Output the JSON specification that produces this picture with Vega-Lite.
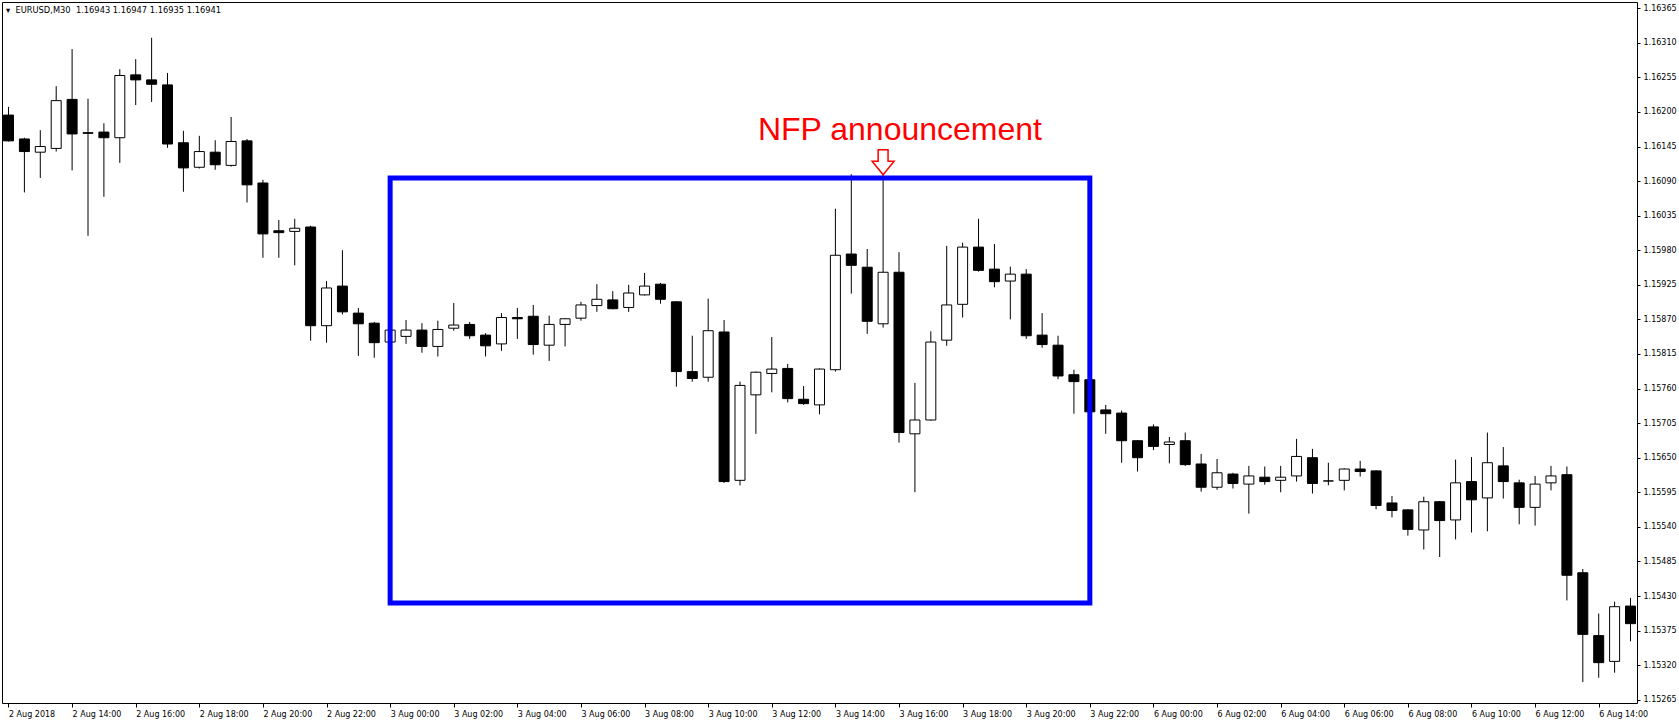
{
  "$schema": "https://vega.github.io/schema/vega-lite/v6.json",
  "width": 1635,
  "height": 701,
  "autosize": {"type": "none"},
  "padding": {"left": 2, "top": 2, "right": 42, "bottom": 21},
  "background": "white",
  "config": {
    "view": {"stroke": "#000000", "strokeWidth": 1},
    "axis": {"labelFont": "DejaVu Sans", "labelFontSize": 8, "labelColor": "#000000", "tickColor": "#000000", "domain": false, "grid": false, "title": null, "labelOverlap": false}
  },
  "title": {
    "text": "▾\u00a0\u00a0EURUSD,M30\u00a0\u00a01.16943\u00a01.16947\u00a01.16935\u00a01.16941",
    "orient": "top", "anchor": "start", "frame": "group",
    "offset": -12, "dx": 4,
    "font": "DejaVu Sans", "fontSize": 8.3, "fontWeight": "normal", "color": "#000000"
  },
  "datasets": {
    "bars": [
      {"i":0,"o":1.16195,"h":1.16208,"l":1.16153,"c":1.16154},
      {"i":1,"o":1.16157,"h":1.16159,"l":1.16072,"c":1.16137},
      {"i":2,"o":1.16136,"h":1.16171,"l":1.16095,"c":1.16145},
      {"i":3,"o":1.16142,"h":1.16241,"l":1.16137,"c":1.16218},
      {"i":4,"o":1.16220,"h":1.16300,"l":1.16107,"c":1.16165},
      {"i":5,"o":1.16167,"h":1.16221,"l":1.16003,"c":1.16166},
      {"i":6,"o":1.16168,"h":1.16182,"l":1.16065,"c":1.16159},
      {"i":7,"o":1.16159,"h":1.16268,"l":1.16119,"c":1.16258},
      {"i":8,"o":1.16259,"h":1.16284,"l":1.16211,"c":1.16251},
      {"i":9,"o":1.16251,"h":1.16318,"l":1.16216,"c":1.16244},
      {"i":10,"o":1.16243,"h":1.16262,"l":1.16143,"c":1.16149},
      {"i":11,"o":1.16151,"h":1.16170,"l":1.16073,"c":1.16111},
      {"i":12,"o":1.16112,"h":1.16162,"l":1.16110,"c":1.16137},
      {"i":13,"o":1.16136,"h":1.16155,"l":1.16108,"c":1.16116},
      {"i":14,"o":1.16115,"h":1.16192,"l":1.16113,"c":1.16153},
      {"i":15,"o":1.16154,"h":1.16157,"l":1.16056,"c":1.16084},
      {"i":16,"o":1.16087,"h":1.16092,"l":1.15968,"c":1.16006},
      {"i":17,"o":1.16011,"h":1.16028,"l":1.15968,"c":1.16008},
      {"i":18,"o":1.16010,"h":1.16030,"l":1.15956,"c":1.16015},
      {"i":19,"o":1.16017,"h":1.16019,"l":1.15836,"c":1.15860},
      {"i":20,"o":1.15860,"h":1.15931,"l":1.15833,"c":1.15920},
      {"i":21,"o":1.15923,"h":1.15980,"l":1.15878,"c":1.15882},
      {"i":22,"o":1.15880,"h":1.15888,"l":1.15812,"c":1.15863},
      {"i":23,"o":1.15864,"h":1.15866,"l":1.15809,"c":1.15833},
      {"i":24,"o":1.15834,"h":1.15858,"l":1.15829,"c":1.15853},
      {"i":25,"o":1.15843,"h":1.15869,"l":1.15831,"c":1.15853},
      {"i":26,"o":1.15853,"h":1.15864,"l":1.15817,"c":1.15827},
      {"i":27,"o":1.15827,"h":1.15868,"l":1.15811,"c":1.15854},
      {"i":28,"o":1.15856,"h":1.15896,"l":1.15852,"c":1.15861},
      {"i":29,"o":1.15862,"h":1.15866,"l":1.15839,"c":1.15844},
      {"i":30,"o":1.15845,"h":1.15848,"l":1.15811,"c":1.15828},
      {"i":31,"o":1.15831,"h":1.15880,"l":1.15820,"c":1.15873},
      {"i":32,"o":1.15873,"h":1.15888,"l":1.15839,"c":1.15871},
      {"i":33,"o":1.15875,"h":1.15893,"l":1.15814,"c":1.15830},
      {"i":34,"o":1.15829,"h":1.15876,"l":1.15804,"c":1.15862},
      {"i":35,"o":1.15862,"h":1.15872,"l":1.15827,"c":1.15871},
      {"i":36,"o":1.15872,"h":1.15898,"l":1.15868,"c":1.15893},
      {"i":37,"o":1.15892,"h":1.15926,"l":1.15882,"c":1.15902},
      {"i":38,"o":1.15901,"h":1.15915,"l":1.15886,"c":1.15887},
      {"i":39,"o":1.15889,"h":1.15925,"l":1.15882,"c":1.15912},
      {"i":40,"o":1.15909,"h":1.15944,"l":1.15908,"c":1.15923},
      {"i":41,"o":1.15926,"h":1.15928,"l":1.15895,"c":1.15902},
      {"i":42,"o":1.15898,"h":1.15899,"l":1.15763,"c":1.15787},
      {"i":43,"o":1.15787,"h":1.15844,"l":1.15771,"c":1.15776},
      {"i":44,"o":1.15778,"h":1.15903,"l":1.15771,"c":1.15852},
      {"i":45,"o":1.15850,"h":1.15869,"l":1.15610,"c":1.15612},
      {"i":46,"o":1.15614,"h":1.15771,"l":1.15606,"c":1.15765},
      {"i":47,"o":1.15750,"h":1.15787,"l":1.15688,"c":1.15786},
      {"i":48,"o":1.15784,"h":1.15842,"l":1.15754,"c":1.15791},
      {"i":49,"o":1.15792,"h":1.15799,"l":1.15738,"c":1.15744},
      {"i":50,"o":1.15743,"h":1.15764,"l":1.15734,"c":1.15736},
      {"i":51,"o":1.15734,"h":1.15792,"l":1.15719,"c":1.15791},
      {"i":52,"o":1.15790,"h":1.16046,"l":1.15787,"c":1.15972},
      {"i":53,"o":1.15974,"h":1.16101,"l":1.15911,"c":1.15956},
      {"i":54,"o":1.15953,"h":1.15982,"l":1.15847,"c":1.15867},
      {"i":55,"o":1.15863,"h":1.16103,"l":1.15857,"c":1.15945},
      {"i":56,"o":1.15945,"h":1.15977,"l":1.15674,"c":1.15690},
      {"i":57,"o":1.15688,"h":1.15769,"l":1.15595,"c":1.15710},
      {"i":58,"o":1.15710,"h":1.15851,"l":1.15709,"c":1.15834},
      {"i":59,"o":1.15837,"h":1.15987,"l":1.15828,"c":1.15893},
      {"i":60,"o":1.15894,"h":1.15992,"l":1.15873,"c":1.15985},
      {"i":61,"o":1.15985,"h":1.16030,"l":1.15946,"c":1.15948},
      {"i":62,"o":1.15950,"h":1.15990,"l":1.15921,"c":1.15930},
      {"i":63,"o":1.15931,"h":1.15954,"l":1.15870,"c":1.15942},
      {"i":64,"o":1.15942,"h":1.15950,"l":1.15839,"c":1.15844},
      {"i":65,"o":1.15845,"h":1.15880,"l":1.15825,"c":1.15830},
      {"i":66,"o":1.15829,"h":1.15844,"l":1.15775,"c":1.15780},
      {"i":67,"o":1.15782,"h":1.15790,"l":1.15720,"c":1.15771},
      {"i":68,"o":1.15774,"h":1.15776,"l":1.15722,"c":1.15723},
      {"i":69,"o":1.15726,"h":1.15734,"l":1.15688,"c":1.15720},
      {"i":70,"o":1.15721,"h":1.15725,"l":1.15642,"c":1.15677},
      {"i":71,"o":1.15677,"h":1.15678,"l":1.15628,"c":1.15650},
      {"i":72,"o":1.15699,"h":1.15703,"l":1.15662,"c":1.15668},
      {"i":73,"o":1.15671,"h":1.15683,"l":1.15641,"c":1.15675},
      {"i":74,"o":1.15677,"h":1.15690,"l":1.15637,"c":1.15639},
      {"i":75,"o":1.15640,"h":1.15656,"l":1.15596,"c":1.15603},
      {"i":76,"o":1.15603,"h":1.15648,"l":1.15599,"c":1.15626},
      {"i":77,"o":1.15624,"h":1.15626,"l":1.15601,"c":1.15609},
      {"i":78,"o":1.15608,"h":1.15637,"l":1.15561,"c":1.15621},
      {"i":79,"o":1.15619,"h":1.15636,"l":1.15607,"c":1.15612},
      {"i":80,"o":1.15614,"h":1.15637,"l":1.15595,"c":1.15619},
      {"i":81,"o":1.15621,"h":1.15680,"l":1.15612,"c":1.15652},
      {"i":82,"o":1.15650,"h":1.15664,"l":1.15593,"c":1.15609},
      {"i":83,"o":1.15613,"h":1.15642,"l":1.15606,"c":1.15613},
      {"i":84,"o":1.15614,"h":1.15633,"l":1.15598,"c":1.15632},
      {"i":85,"o":1.15632,"h":1.15645,"l":1.15620,"c":1.15628},
      {"i":86,"o":1.15629,"h":1.15630,"l":1.15568,"c":1.15574},
      {"i":87,"o":1.15578,"h":1.15589,"l":1.15555,"c":1.15566},
      {"i":88,"o":1.15567,"h":1.15568,"l":1.15526,"c":1.15536},
      {"i":89,"o":1.15535,"h":1.15588,"l":1.15504,"c":1.15580},
      {"i":90,"o":1.15580,"h":1.15581,"l":1.15492,"c":1.15550},
      {"i":91,"o":1.15551,"h":1.15647,"l":1.15520,"c":1.15610},
      {"i":92,"o":1.15612,"h":1.15651,"l":1.15531,"c":1.15583},
      {"i":93,"o":1.15586,"h":1.15690,"l":1.15533,"c":1.15642},
      {"i":94,"o":1.15637,"h":1.15667,"l":1.15585,"c":1.15612},
      {"i":95,"o":1.15610,"h":1.15615,"l":1.15544,"c":1.15571},
      {"i":96,"o":1.15571,"h":1.15621,"l":1.15542,"c":1.15608},
      {"i":97,"o":1.15610,"h":1.15637,"l":1.15598,"c":1.15621},
      {"i":98,"o":1.15623,"h":1.15636,"l":1.15423,"c":1.15463},
      {"i":99,"o":1.15467,"h":1.15473,"l":1.15293,"c":1.15369},
      {"i":100,"o":1.15367,"h":1.15402,"l":1.15300,"c":1.15324},
      {"i":101,"o":1.15326,"h":1.15421,"l":1.15308,"c":1.15413},
      {"i":102,"o":1.15414,"h":1.15427,"l":1.15358,"c":1.15386}
    ],
    "box": [{"from": 24, "to": 68, "lo": 1.15419, "hi": 1.16095}],
    "event": [{"i": 55, "p": 1.16120}],
    "caption": [{"i": 56.06, "p": 1.16155, "text": "NFP announcement"}]
  },
  "layer": [
    {
      "data": {"name": "bars"},
      "mark": {"type": "rule", "color": "#000000", "strokeWidth": 1, "clip": true},
      "encoding": {
        "x": {
          "field": "i", "type": "quantitative",
          "scale": {"domain": [-0.09375, 102.09375], "nice": false, "zero": false},
          "axis": {
            "orient": "bottom",
            "values": [0,4,8,12,16,20,24,28,32,36,40,44,48,52,56,60,64,68,72,76,80,84,88,92,96,100],
            "tickCount": 60,
            "tickSize": 4, "labelAlign": "left", "labelBaseline": "top", "labelPadding": 3, "labelFlush": false, "labelOverlap": false,
            "labelExpr": "datum.value == 0 ? '2 Aug 2018' : datum.value < 72 ? ((datum.value < 24 ? '2' : '3') + ' Aug ' + pad(toString((12 + datum.value / 2) % 24), 2, '0', 'left') + ':00') : ('6 Aug ' + pad(toString((datum.value - 72) / 2), 2, '0', 'left') + ':00')"
          }
        },
        "y": {
          "field": "l", "type": "quantitative",
          "scale": {"domain": [1.152598, 1.163749], "nice": false, "zero": false},
          "axis": {
            "orient": "right",
            "values": [1.15265,1.1532,1.15375,1.1543,1.15485,1.1554,1.15595,1.1565,1.15705,1.1576,1.15815,1.1587,1.15925,1.1598,1.16035,1.1609,1.16145,1.162,1.16255,1.1631,1.16365],
            "tickCount": 40,
            "format": ".5f", "tickSize": 3, "labelPadding": 3, "labelOverlap": false, "labelFlush": false, "labelBound": false
          }
        },
        "y2": {"field": "h"}
      }
    },
    {
      "data": {"name": "bars"},
      "mark": {"type": "bar", "size": 10, "stroke": "#000000", "strokeWidth": 1, "clip": true},
      "encoding": {
        "x": {"field": "i", "type": "quantitative"},
        "y": {"field": "o", "type": "quantitative"},
        "y2": {"field": "c"},
        "fill": {"condition": {"test": "datum.c > datum.o", "value": "#ffffff"}, "value": "#000000"}
      }
    },
    {
      "data": {"name": "box"},
      "mark": {"type": "rect", "fillOpacity": 0, "stroke": "#0000ff", "strokeWidth": 5},
      "encoding": {
        "x": {"field": "from", "type": "quantitative"},
        "x2": {"field": "to"},
        "y": {"field": "lo", "type": "quantitative"},
        "y2": {"field": "hi"}
      }
    },
    {
      "data": {"name": "event"},
      "mark": {
        "type": "point", "filled": true, "fill": "#ffffff", "stroke": "#ff0000", "strokeWidth": 1.5, "opacity": 1, "size": 484,
        "shape": "M -0.45 -1.14 L 0.45 -1.14 L 0.45 -0.1 L 1 -0.1 L 0 1.14 L -1 -0.1 L -0.45 -0.1 Z"
      },
      "encoding": {
        "x": {"field": "i", "type": "quantitative"},
        "y": {"field": "p", "type": "quantitative"}
      }
    },
    {
      "data": {"name": "caption"},
      "mark": {"type": "text", "font": "Liberation Sans", "fontSize": 32, "color": "#ff0000", "align": "center", "baseline": "alphabetic"},
      "encoding": {
        "x": {"field": "i", "type": "quantitative"},
        "y": {"field": "p", "type": "quantitative"},
        "text": {"field": "text"}
      }
    }
  ]
}
